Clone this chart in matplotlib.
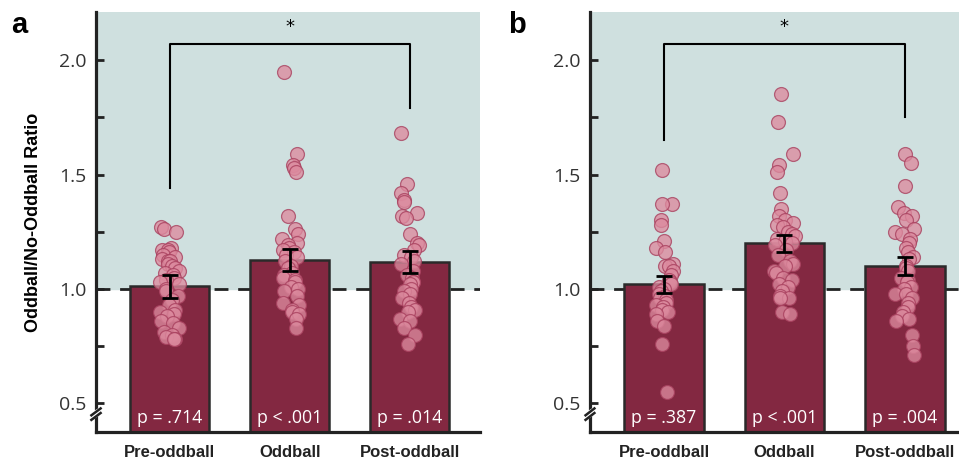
import matplotlib.pyplot as plt
import numpy as np

# Categories and values
categorias = ['Pre-oddball', 'Oddball', 'Post-oddball']

a_pre = [1.27, 1.26, 1.25, 1.18, 1.17, 1.17, 1.16, 1.15, 1.14, 1.13, 1.12, 1.12, 1.11,
         1.10, 1.09, 1.08, 1.07, 1.06, 1.05, 1.04, 1.03, 1.02, 1.00, 0.99, 0.97, 0.95,
         0.93, 0.91, 0.90, 0.89, 0.88, 0.86, 0.85, 0.83, 0.81, 0.80, 0.79, 0.78, 0.78]
a_odd = [1.95, 1.59, 1.54, 1.53, 1.51, 1.32, 1.26, 1.24, 1.22, 1.20, 1.19, 1.18, 1.17,
         1.16, 1.15, 1.14, 1.12, 1.10, 1.09, 1.07, 1.06, 1.05, 1.04, 1.03, 1.01, 1.00,
         0.99, 0.97, 0.94, 0.93, 0.91, 0.90, 0.89, 0.87, 0.83]
a_post = [1.68, 1.46, 1.42, 1.39, 1.38, 1.33, 1.32, 1.31, 1.24, 1.20, 1.19, 1.17, 1.15,
          1.14, 1.12, 1.11, 1.08, 1.06, 1.05, 1.03, 1.03, 1.02, 1.00, 0.99, 0.98, 0.96,
          0.94, 0.92, 0.91, 0.90, 0.87, 0.86, 0.83, 0.80, 0.76]

b_pre = [1.52, 1.37, 1.37, 1.30, 1.28, 1.21, 1.18, 1.16, 1.11, 1.10, 1.10, 1.08, 1.06,
         1.04, 1.03, 1.02, 1.01, 1.00, 0.99, 0.98, 0.97, 0.96, 0.95, 0.94, 0.93, 0.92,
         0.91, 0.90, 0.89, 0.86, 0.84, 0.76, 0.55]
b_odd = [1.85, 1.73, 1.59, 1.54, 1.51, 1.42, 1.35, 1.32, 1.30, 1.29, 1.28, 1.27, 1.25,
         1.24, 1.23, 1.22, 1.21, 1.20, 1.19, 1.17, 1.15, 1.12, 1.11, 1.10, 1.08, 1.07,
         1.05, 1.04, 1.02, 1.01, 0.99, 0.97, 0.96, 0.96, 0.90, 0.89]
b_post = [1.59, 1.55, 1.45, 1.36, 1.33, 1.32, 1.30, 1.26, 1.25, 1.24, 1.22, 1.20, 1.18,
          1.16, 1.14, 1.13, 1.10, 1.09, 1.08, 1.05, 1.04, 1.03, 1.01, 1.00, 0.98, 0.98,
          0.96, 0.94, 0.92, 0.90, 0.88, 0.87, 0.86, 0.80, 0.75, 0.71]

a_medias = [1.011, 1.127, 1.117]
a_erro = [0.051, 0.048, 0.049]
b_medias = [1.02, 1.20, 1.10]
b_erro = [0.037, 0.037, 0.040]

a_pvals = ['p = .714', 'p < .001', 'p = .014']
b_pvals = ['p = .387', 'p < .001', 'p = .004']

# bracket: top y, left leg bottom, right leg bottom
a_chave = [2.07, 1.44, 1.79]
b_chave = [2.07, 1.65, 1.75]

cor_barra = '#832841'
cor_ponto = '#dc8a9e'
cor_borda_ponto = '#a8405e'
cor_fundo = '#cfe0df'

fig = plt.figure(figsize=(9.59, 4.61), dpi=100)
ax_a = fig.add_axes([0.1001, 0.0629, 0.4004, 0.911])
ax_b = fig.add_axes([0.6152, 0.0629, 0.3848, 0.911])

rng = np.random.default_rng(3)


def painel(ax, grupos, medias, erros, pvals, chave, xmax):
    x = np.arange(len(categorias))
    ax.set_xlim(-0.615, xmax)
    ax.set_ylim(0.375, 2.21)
    ax.axhspan(1.0, 2.21, color=cor_fundo, zorder=0)
    ax.axhline(1.0, color='#222222', linestyle=(0, (5, 3.5)), linewidth=2, zorder=1)
    ax.bar(x, medias, width=0.66, bottom=0, color=cor_barra, edgecolor='#2a2a2a',
           linewidth=1.8, zorder=2)
    for i, vals in enumerate(grupos):
        jit = rng.uniform(-0.085, 0.085, len(vals))
        ax.scatter(x[i] + jit, vals, s=100, color=cor_ponto, edgecolor=cor_borda_ponto,
                   linewidth=0.9, alpha=0.78, zorder=3)
    ax.errorbar(x, medias, yerr=erros, fmt='none', ecolor='black', elinewidth=2,
                capsize=6, capthick=2, zorder=4)
    for i, p in enumerate(pvals):
        ax.text(x[i], 0.437, p, color='white', ha='center', va='center',
                fontsize=12.8, family='Open Sans', zorder=5)
    topo, esq, dir_ = chave
    ax.plot([x[0], x[0], x[2], x[2]], [esq, topo, topo, dir_], color='black',
            linewidth=1.5, zorder=5)
    ax.text((x[0] + x[2]) / 2, topo + 0.035, '*', ha='center', va='bottom',
            fontsize=13, zorder=5)

    for s in ['top', 'right']:
        ax.spines[s].set_visible(False)
    for s in ['left', 'bottom']:
        ax.spines[s].set_linewidth(2.3)
        ax.spines[s].set_color('#222222')
    ax.set_yticks([0.5, 1.0, 1.5, 2.0])
    ax.set_yticks([0.75, 1.25, 1.75], minor=True)
    ax.tick_params(axis='y', which='both', direction='in', length=6, width=2,
                   color='#222222', labelsize=14, labelcolor='#333333', pad=7)
    for lab in ax.get_yticklabels():
        lab.set_family('Open Sans')
    ax.set_xticks(x)
    ax.set_xticklabels(categorias, fontsize=12, fontweight='bold', family='Liberation Sans',
                       color='#222222')
    ax.tick_params(axis='x', length=0, pad=9)

    # axis break marks
    ax.plot([-0.01, 0.01], [0.445, 0.465], transform=ax.get_yaxis_transform(),
            color='white', linewidth=5, clip_on=False, zorder=6)
    for yb in [0.428, 0.448]:
        ax.plot([-0.012, 0.012], [yb, yb + 0.03], transform=ax.get_yaxis_transform(),
                color='#222222', linewidth=1.8, clip_on=False, zorder=7)


painel(ax_a, [a_pre, a_odd, a_post], a_medias, a_erro, a_pvals, a_chave, 2.585)
painel(ax_b, [b_pre, b_odd, b_post], b_medias, b_erro, b_pvals, b_chave, 2.45)

ax_a.set_ylabel('Oddball/No-Oddball Ratio', fontsize=13, fontweight='bold',
                family='Liberation Sans', labelpad=12)

fig.text(0.012, 0.945, 'a', fontsize=21, fontweight='bold', family='Liberation Sans',
         va='center')
fig.text(0.530, 0.945, 'b', fontsize=21, fontweight='bold', family='Liberation Sans',
         va='center')

plt.savefig('out.png', dpi=100)
